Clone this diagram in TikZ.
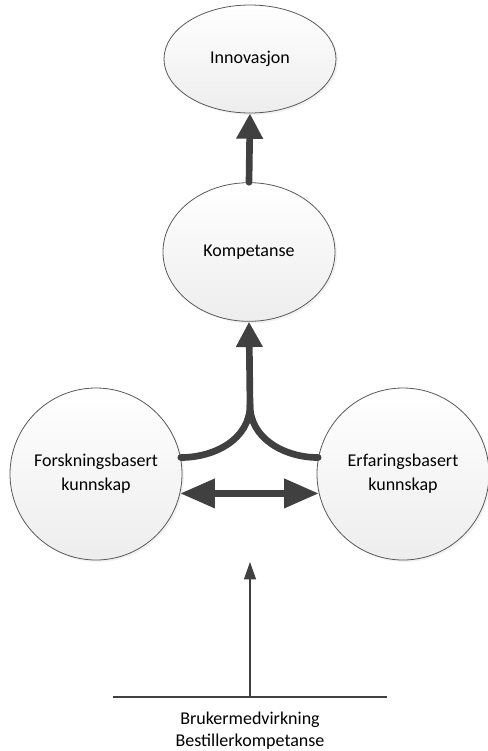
\documentclass[tikz,border=0pt]{standalone}
\usepackage{fontspec}
\setmainfont{Carlito}
\usetikzlibrary{arrows.meta,shapes.geometric,shadows}
\definecolor{arrowgray}{HTML}{404040}
\definecolor{ringgray}{HTML}{595959}
\tikzset{
	blob/.style={ellipse, draw=ringgray, line width=0.6pt, top color=white, bottom color=black!7, align=center, font=\fontsize{13.5}{18}\selectfont, drop shadow={shadow xshift=1.5pt, shadow yshift=-1.5pt, fill=black!10}},
	fatline/.style={draw=arrowgray, line width=5pt, line cap=round},
	fat/.style={fatline, -{Triangle[length=19pt, width=19pt]}},
	fatboth/.style={draw=arrowgray, line width=5pt, {Triangle[length=26pt, width=21pt]}-{Triangle[length=26pt, width=21pt]}},
	thin/.style={draw=arrowgray, line width=0.8pt, -{Triangle[length=13pt, width=9pt]}}
}
\begin{document}
\begin{tikzpicture}[x=0.75pt, y=-0.75pt]
\useasboundingbox (0,0) rectangle (488,751);
\coordinate (P) at (250,59);
\coordinate (Q) at (249,252);
\coordinate (R) at (96,474);
\coordinate (S) at (403,474);
\coordinate (join) at (250,405);
\coordinate (base) at (250,697);
\coordinate (tip) at (250,562);
\coordinate (bl) at (113,697);
\coordinate (br) at (387,697);

\node[blob, minimum width=129pt, minimum height=81pt] (inno) at (P) {Innovasjon};
\node[blob, minimum width=129pt, minimum height=104pt] (komp) at (Q) {Kompetanse};
\node[blob, circle, minimum size=129pt] (forsk) at (R) {Forskningsbasert\\kunnskap};
\node[blob, circle, minimum size=129pt] (erfar) at (S) {Erfaringsbasert\\kunnskap};
\node[align=center, font=\fontsize{13.5}{16.5}\selectfont] (bruker) at (250,731) {Brukermedvirkning\\Bestillerkompetanse};

\draw[fat] (komp.north) -- (inno.south);
\draw[fat] (forsk.11) to[out=0,in=-90] (join) -- (komp.south);
\draw[fatline] (erfar.169) to[out=180,in=-90] (join);
\draw[fatboth] (forsk.-13) -- (erfar.-167);
\draw[draw=arrowgray, line width=0.8pt] (bl) -- (br);
\draw[thin] (base) -- (tip);
\end{tikzpicture}
\end{document}
